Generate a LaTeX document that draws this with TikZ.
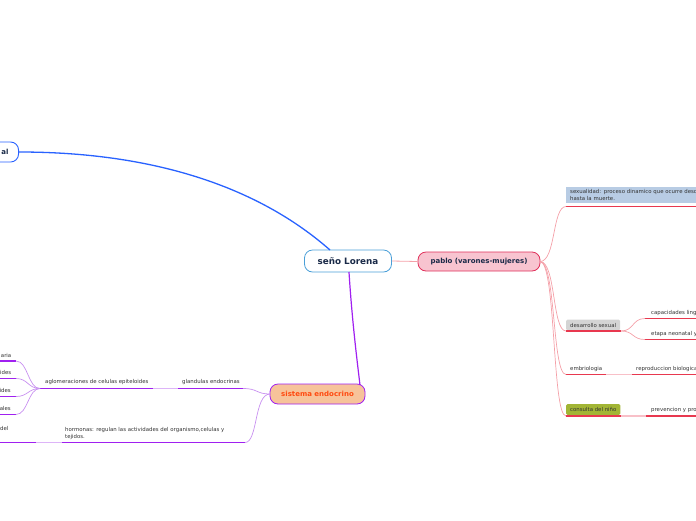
\documentclass[tikz,border=0pt]{standalone}
\usepackage{fontspec}
\setmainfont{DejaVu Sans}
\definecolor{lorblue}{HTML}{4A9FD8}
\definecolor{connblue}{HTML}{2962FF}
\definecolor{navy}{HTML}{1A2A48}
\definecolor{pinkfill}{HTML}{F8C4D0}
\definecolor{crimson}{HTML}{E0305A}
\definecolor{peach}{HTML}{F7C39A}
\definecolor{purp}{HTML}{A020F0}
\definecolor{orangered}{HTML}{FF4A10}
\definecolor{ulred}{HTML}{E8384F}
\definecolor{lightpink}{HTML}{F8C0C8}
\definecolor{curvepink}{HTML}{F4A0A8}
\definecolor{lavender}{HTML}{DDB4F8}
\definecolor{curvelav}{HTML}{C890F0}
\definecolor{sexblue}{HTML}{B8CCE4}
\definecolor{boxgray}{HTML}{D4D4D4}
\definecolor{boxgreen}{HTML}{A2B535}
\definecolor{txtgray}{HTML}{333333}
\begin{document}
\begin{tikzpicture}[x=1pt,y=-1pt,
  smalltxt/.style={font=\fontsize{5.4}{7}\selectfont, text=txtgray, inner sep=0pt},
  bigtxt/.style={font=\fontsize{7}{8}\selectfont\bfseries},
  ulr/.style={draw=ulred, line width=1.2pt},
  ulp/.style={draw=purp, line width=1.2pt},
  linkr/.style={draw=lightpink, line width=1.2pt},
  linkp/.style={draw=lavender, line width=1.2pt},
  crvr/.style={draw=curvepink, line width=0.7pt},
  crvp/.style={draw=curvelav, line width=0.7pt},
  tagbox/.style={smalltxt, rounded corners=1.5pt, minimum height=11pt, inner xsep=4pt, anchor=west}
]
\useasboundingbox (0,0) rectangle (696,520);
\clip (0,0) rectangle (696,520);

% ---- main nodes
\node[draw=connblue, line width=0.9pt, rounded corners=8pt, fill=white, minimum height=20pt,
      text width=52pt, align=right, inner xsep=10pt, anchor=east, bigtxt, text=navy] (nerv) at (19,152) {al};
\node[draw=lorblue, line width=0.8pt, rounded corners=8pt, fill=white, minimum width=87pt,
      minimum height=22pt, font=\fontsize{8.8}{10}\selectfont\bfseries, text=navy] (lorena) at (348,261) {seño Lorena};
\node[draw=crimson, line width=0.8pt, rounded corners=8pt, fill=pinkfill, minimum width=122pt,
      minimum height=19pt, bigtxt, text=navy] (pablo) at (479,261.5) {pablo (varones-mujeres)};
\node[draw=purp, line width=0.8pt, rounded corners=8pt, fill=peach, minimum width=95pt,
      minimum height=20pt, bigtxt, text=orangered] (endo) at (317.5,394) {sistema endocrino};

% ---- main connectors
\draw[connblue, line width=1.3pt] (nerv.east) .. controls (200,152) and (290,215) .. (330,250);
\draw[purp, line width=1.2pt] (349,272) .. controls (352,320) and (357,360) .. (360,385);
\draw[curvepink, line width=0.8pt] (lorena.east) -- (pablo.west);

% ---- right side
\node[smalltxt, fill=sexblue, anchor=north west, text width=240pt, align=left,
      inner xsep=4pt, inner ysep=2.5pt] (sex) at (566,187)
  {sexualidad: proceso dinamico que ocurre desde el nacimiento\\hasta la muerte.};
\coordinate (sexA) at (566,206.5);
\coordinate (sexB) at (700,206.5);
\draw[ulr] (sexA) -- (sexB);

\node[tagbox, fill=boxgray] (desa) at (566,325) {desarrollo sexual};
\coordinate (desaA) at (566,331);
\coordinate (desaB) at (621,331);
\draw[ulr] (desaA) -- (desaB);

\node[smalltxt, anchor=base west] (ling) at (651,314) {capacidades linguisticas};
\coordinate (lingA) at (645,318.5);
\coordinate (lingB) at (700,318.5);
\draw[ulr] (lingA) -- (lingB);
\node[smalltxt, anchor=base west] (neo) at (651,335) {etapa neonatal y infancia};
\coordinate (neoA) at (645,339.5);
\coordinate (neoB) at (700,339.5);
\draw[ulr] (neoA) -- (neoB);
\draw[crvr] (desaB) .. controls (634,331) and (632,318.5) .. (lingA);
\draw[crvr] (desaB) .. controls (634,331) and (632,339.5) .. (neoA);

\node[smalltxt, anchor=base west] (embr) at (570,370) {embriologia};
\coordinate (embrA) at (566,374.5);
\coordinate (embrB) at (606,374.5);
\draw[ulr] (embrA) -- (embrB);
\node[smalltxt, anchor=base west] (repro) at (636,370) {reproduccion biologica};
\coordinate (reproA) at (632,374.5);
\coordinate (reproB) at (700,374.5);
\draw[ulr] (reproA) -- (reproB);
\draw[linkr] (embrB) -- (reproA);

\node[tagbox, fill=boxgreen] (cons) at (566,409.5) {consulta del niño};
\coordinate (consA) at (566,416);
\coordinate (consB) at (621,416);
\draw[ulr] (consA) -- (consB);
\node[smalltxt, anchor=base west] (prev) at (651,411) {prevencion y promocion};
\coordinate (prevA) at (646,416);
\coordinate (prevB) at (700,416);
\draw[ulr] (prevA) -- (prevB);
\draw[linkr] (consB) -- (prevA);

\coordinate (pR) at (540,261.5);
\draw[crvr] (pR) .. controls (556,261.5) and (552,206.5) .. (sexA);
\draw[crvr] (pR) .. controls (556,261.5) and (552,331) .. (desaA);
\draw[crvr] (pR) .. controls (556,261.5) and (552,374.5) .. (embrA);
\draw[crvr] (pR) .. controls (556,261.5) and (552,416) .. (consA);

% ---- left side
\node[smalltxt, anchor=base west] (glan) at (182,383.5) {glandulas endocrinas};
\coordinate (glanA) at (178,388.5);
\coordinate (glanB) at (243,388.5);
\draw[ulp] (glanA) -- (glanB);
\node[smalltxt, anchor=base west] (aglo) at (45,383.5) {aglomeraciones de celulas epiteloides};
\coordinate (agloA) at (40,388.5);
\coordinate (agloB) at (153,388.5);
\draw[ulp] (agloA) -- (agloB);
\draw[linkp] (agloB) -- (glanA);

\node[smalltxt, anchor=base east] (c1) at (11.5,357) {aria};
\node[smalltxt, anchor=base east] (c2) at (11.5,374.5) {ides};
\node[smalltxt, anchor=base east] (c3) at (11,392.5) {ides};
\node[smalltxt, anchor=base east] (c4) at (11,410.5) {ales};
\foreach \y/\n in {361/1, 378.5/2, 396.5/3, 414.5/4}{
  \coordinate (u\n A) at (-5,\y);
  \coordinate (u\n B) at (16,\y);
  \draw[ulp] (u\n A) -- (u\n B);
  \draw[crvp] (agloA) .. controls (28,388.5) and (28,\y) .. (u\n B);
}

\node[smalltxt, anchor=base west, align=left] (horm) at (65,438)
  {hormonas: regulan las actividades del organismo,celulas y\\tejidos.};
\coordinate (hormA) at (62,442.5);
\coordinate (hormB) at (245,442.5);
\draw[ulp] (hormA) -- (hormB);
\node[smalltxt, anchor=base west] (del) at (0,430.5) {del};
\coordinate (delA) at (-5,442.5);
\coordinate (delB) at (36,442.5);
\draw[ulp] (delA) -- (delB);
\draw[linkp] (delB) -- (hormA);

\coordinate (eW) at (270,394);
\draw[crvp] (eW) .. controls (256,394) and (258,388.5) .. (glanB);
\draw[crvp] (eW) .. controls (254,394) and (258,442.5) .. (hormB);
\end{tikzpicture}
\end{document}
